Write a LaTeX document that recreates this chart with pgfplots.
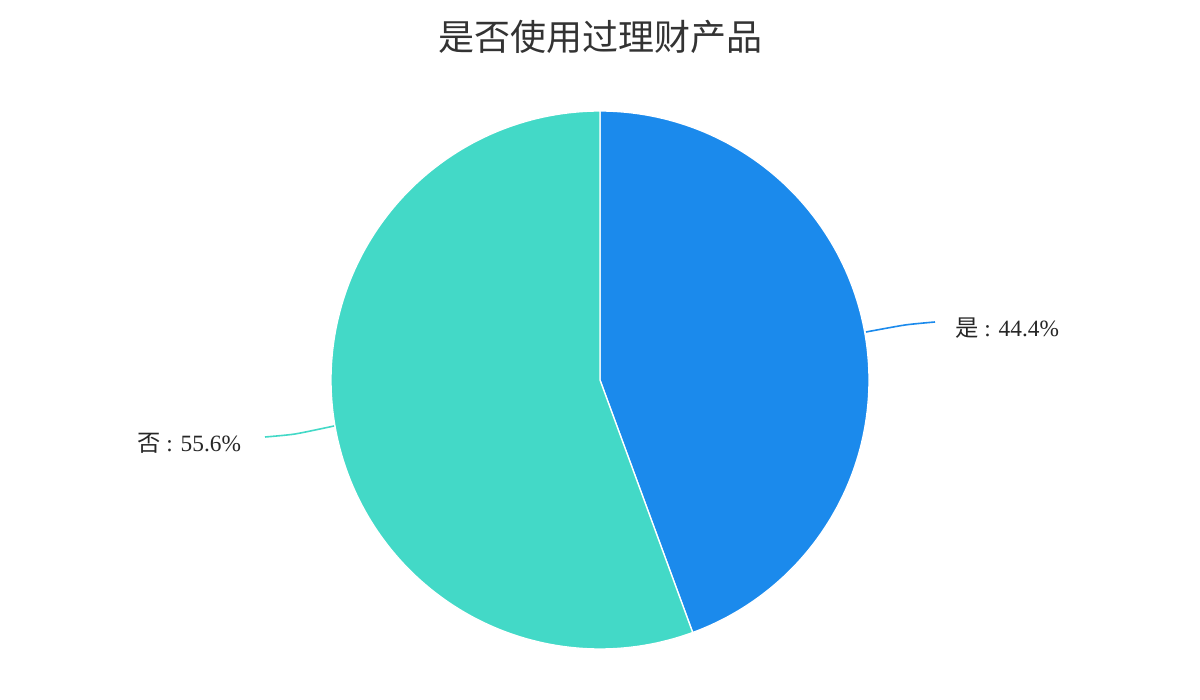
\documentclass[border=0pt]{standalone}
\usepackage{fontspec}
\setmainfont{Liberation Serif}
\newfontfamily\cjk{Noto Sans CJK SC}
\usepackage{pgfplots}
\pgfplotsset{compat=1.18}
\usepackage{pgfplotstable}
\definecolor{cblue}{RGB}{27,138,236}
\definecolor{cteal}{RGB}{67,217,199}
\definecolor{ctitle}{RGB}{51,51,51}
% share of each answer in percent
\pgfplotstableread{
name value
yes 44.4
no 55.6
}\piedata
\pgfplotstablegetelem{0}{value}\of\piedata \let\valA\pgfplotsretval
\pgfplotstablegetelem{1}{value}\of\piedata \let\valB\pgfplotsretval
\begin{document}
\begin{tikzpicture}
\path[use as bounding box] (0,0) rectangle (900pt,525pt);
\begin{axis}[
  at={(0,0)}, anchor=origin,
  x=0.75pt, y=0.75pt,
  xmin=0, xmax=1200, ymin=0, ymax=700,
  hide axis, clip=false,
]
% slice "是" clockwise from 12 o'clock
\addplot[fill=cblue, draw=white, line width=1pt, domain={90-3.6*\valA}:90, samples=120, variable=\t]
  ({600+269*cos(\t)},{320+269*sin(\t)}) -- (axis cs:600,320) -- cycle;
% slice "否"
\addplot[fill=cteal, draw=white, line width=1pt, domain={90-3.6*\valA-3.6*\valB}:{90-3.6*\valA}, samples=150, variable=\t]
  ({600+269*cos(\t)},{320+269*sin(\t)}) -- (axis cs:600,320) -- cycle;
% leader lines
\addplot[cblue, line width=1.2pt, smooth, tension=0.4] coordinates {(866,368) (905,375) (935,378)};
\addplot[cteal, line width=1.2pt, smooth, tension=0.4] coordinates {(334,274) (295,266) (265,263)};
% labels
\node[anchor=west, inner sep=0pt, font=\fontsize{17.5}{20}\selectfont, text=black!85] at (axis cs:955,372) {{\cjk 是} : 44.4\%};
\node[anchor=west, inner sep=0pt, font=\fontsize{17.5}{20}\selectfont, text=black!85] at (axis cs:137,257) {{\cjk 否} : 55.6\%};
% title
\node[inner sep=0pt, font=\cjk\fontsize{27}{30}\selectfont, text=ctitle] at (axis cs:600,663) {是否使用过理财产品};
\end{axis}
\end{tikzpicture}
\end{document}
